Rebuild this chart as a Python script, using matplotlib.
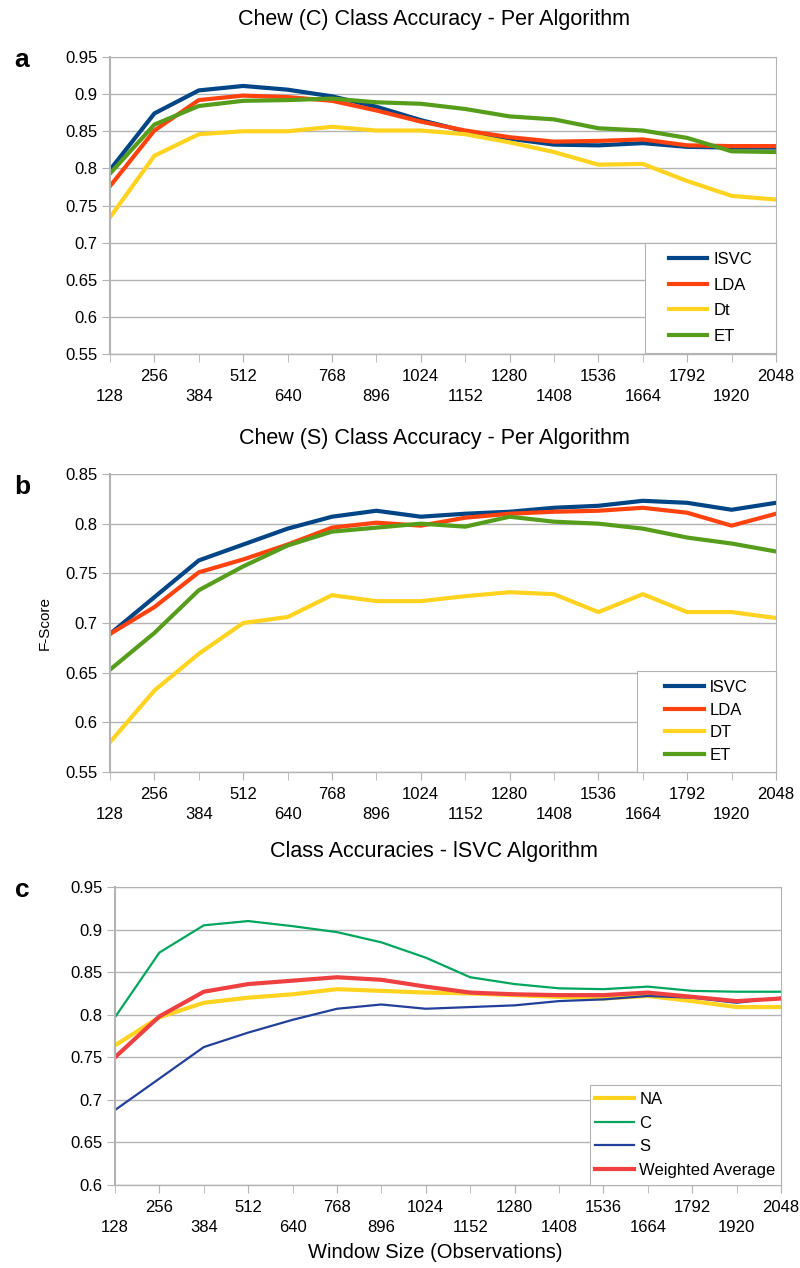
import matplotlib
matplotlib.use("Agg")
import matplotlib.pyplot as plt
from matplotlib.patches import Rectangle
from matplotlib.ticker import FixedLocator, FixedFormatter, MultipleLocator, FuncFormatter

plt.rcParams['font.family'] = ['Liberation Sans', 'DejaVu Sans']

# Window sizes (observations)
window = [128, 256, 384, 512, 640, 768, 896, 1024, 1152, 1280, 1408, 1536, 1664, 1792, 1920, 2048]

# Panel a: Chew (C) class accuracy per algorithm
a_isvc = [0.798, 0.874, 0.905, 0.911, 0.906, 0.897, 0.883, 0.865, 0.850, 0.840, 0.832, 0.831, 0.834, 0.829, 0.828, 0.828]
a_lda = [0.776, 0.851, 0.892, 0.898, 0.896, 0.891, 0.878, 0.863, 0.851, 0.842, 0.836, 0.837, 0.839, 0.831, 0.830, 0.830]
a_dt = [0.734, 0.817, 0.846, 0.850, 0.850, 0.856, 0.851, 0.851, 0.846, 0.835, 0.822, 0.805, 0.806, 0.783, 0.763, 0.758]
a_et = [0.793, 0.859, 0.884, 0.891, 0.892, 0.894, 0.889, 0.887, 0.880, 0.870, 0.866, 0.854, 0.851, 0.841, 0.823, 0.822]

# Panel b: Chew (S) class accuracy per algorithm
b_isvc = [0.689, 0.726, 0.763, 0.779, 0.795, 0.807, 0.813, 0.807, 0.810, 0.812, 0.816, 0.818, 0.823, 0.821, 0.814, 0.821]
b_lda = [0.689, 0.716, 0.751, 0.764, 0.779, 0.796, 0.801, 0.798, 0.806, 0.810, 0.812, 0.813, 0.816, 0.811, 0.798, 0.810]
b_dt = [0.580, 0.632, 0.669, 0.700, 0.706, 0.728, 0.722, 0.722, 0.727, 0.731, 0.729, 0.711, 0.729, 0.711, 0.711, 0.705]
b_et = [0.653, 0.690, 0.733, 0.757, 0.778, 0.792, 0.796, 0.800, 0.797, 0.807, 0.802, 0.800, 0.795, 0.786, 0.780, 0.772]

# Panel c: class accuracies for the lSVC algorithm
c_na = [0.764, 0.797, 0.814, 0.820, 0.824, 0.830, 0.828, 0.826, 0.825, 0.823, 0.821, 0.819, 0.822, 0.816, 0.809, 0.809]
c_c = [0.797, 0.873, 0.905, 0.910, 0.904, 0.897, 0.885, 0.867, 0.844, 0.836, 0.831, 0.830, 0.833, 0.828, 0.827, 0.827]
c_s = [0.688, 0.725, 0.762, 0.779, 0.794, 0.807, 0.812, 0.807, 0.809, 0.811, 0.816, 0.818, 0.822, 0.820, 0.814, 0.820]
c_wavg = [0.750, 0.798, 0.827, 0.836, 0.840, 0.844, 0.841, 0.833, 0.826, 0.824, 0.823, 0.823, 0.826, 0.821, 0.816, 0.819]

titles = ["Chew (C) Class Accuracy - Per Algorithm",
          "Chew (S) Class Accuracy - Per Algorithm",
          "Class Accuracies - lSVC Algorithm"]

BLUE = "#004586"
ORANGE = "#ff420e"
YELLOW = "#ffd320"
GREEN = "#579d1c"
GRID = "#b3b3b3"

fig = plt.figure(figsize=(8, 12.68), dpi=100)
W, H = 800, 1268


def axes_px(left, top, right, bottom):
    return fig.add_axes([left / W, 1 - bottom / H, (right - left) / W, (bottom - top) / H])


def style(ax, ylo, yhi):
    ax.set_xlim(window[0], window[-1])
    ax.set_ylim(ylo, yhi)
    ax.yaxis.set_major_locator(MultipleLocator(0.05))
    ax.yaxis.set_major_formatter(FuncFormatter(lambda v, p: f"{v:.2f}".rstrip('0').rstrip('.')))
    ax.grid(axis='y', color=GRID, linewidth=1.0)
    ax.set_axisbelow(True)
    # two staggered rows of window-size labels
    ax.xaxis.set_major_locator(FixedLocator(window[1::2]))
    ax.xaxis.set_major_formatter(FixedFormatter([str(w) for w in window[1::2]]))
    ax.xaxis.set_minor_locator(FixedLocator(window[0::2]))
    ax.xaxis.set_minor_formatter(FixedFormatter([str(w) for w in window[0::2]]))
    ax.tick_params(axis='x', which='major', length=6, pad=5, color=GRID, labelsize=12)
    ax.tick_params(axis='x', which='minor', length=6, pad=19, color=GRID, labelsize=12)
    ax.tick_params(axis='y', length=6, pad=3, color=GRID, labelsize=12)
    for s in ax.spines.values():
        s.set_color(GRID)
        s.set_linewidth(0.8)
    ax.spines['left'].set_linewidth(1.5)
    ax.spines['bottom'].set_linewidth(1.0)


def boxed_legend(ax, left, top, right, bottom, spacing):
    # white framed box with the legend entries centred inside it
    box = Rectangle((left / W, 1 - bottom / H), (right - left) / W, (bottom - top) / H,
                    transform=fig.transFigure, facecolor='white', edgecolor=GRID,
                    linewidth=0.8, zorder=4, clip_on=False)
    ax.add_patch(box)
    lg = ax.legend(loc='center', bbox_to_anchor=((left + right) / 2 / W, 1 - (top + bottom) / 2 / H),
                   bbox_transform=fig.transFigure, frameon=False, fontsize=12,
                   handlelength=2.3, handletextpad=0.35, labelspacing=spacing,
                   borderpad=0, borderaxespad=0)
    lg.set_zorder(5)
    return lg


# Panel a
ax1 = axes_px(110, 57, 776, 354)
ax1.plot(window, a_isvc, color=BLUE, lw=3, label="ISVC")
ax1.plot(window, a_lda, color=ORANGE, lw=3, label="LDA")
ax1.plot(window, a_dt, color=YELLOW, lw=3, label="Dt")
ax1.plot(window, a_et, color=GREEN, lw=3, label="ET")
style(ax1, 0.55, 0.95)
boxed_legend(ax1, 645, 243, 776, 353, 0.63)

# Panel b
ax2 = axes_px(110, 474, 776, 772)
ax2.plot(window, b_isvc, color=BLUE, lw=3, label="lSVC")
ax2.plot(window, b_lda, color=ORANGE, lw=3, label="LDA")
ax2.plot(window, b_dt, color=YELLOW, lw=3, label="DT")
ax2.plot(window, b_et, color=GREEN, lw=3, label="ET")
style(ax2, 0.55, 0.85)
boxed_legend(ax2, 637, 671, 776, 772, 0.45)
ax2.set_ylabel("F-Score", fontsize=11, labelpad=10)

# Panel c
ax3 = axes_px(115, 887, 781, 1185)
ax3.plot(window, c_na, color=YELLOW, lw=3, label="NA")
ax3.plot(window, c_c, color="#00a65d", lw=1.6, label="C")
ax3.plot(window, c_s, color="#22409a", lw=1.6, label="S")
ax3.plot(window, c_wavg, color="#ee4040", lw=3, label="Weighted Average")
style(ax3, 0.6, 0.95)
boxed_legend(ax3, 590, 1085, 781, 1185, 0.51)

# Titles, panel letters and shared x label
for ytop, t in zip([20, 438, 851], titles):
    fig.text(434 / W, 1 - ytop / H, t, ha='center', va='center', fontsize=15.5)
for (x, y), letter in zip([(22, 60), (22, 487), (22, 890)], "abc"):
    fig.text(x / W, 1 - y / H, letter, ha='center', va='center', fontsize=19, fontweight='bold')
fig.text(435 / W, 1 - 1253 / H, "Window Size (Observations)", ha='center', va='center', fontsize=14.5)

fig.savefig("out.png", dpi=100)
